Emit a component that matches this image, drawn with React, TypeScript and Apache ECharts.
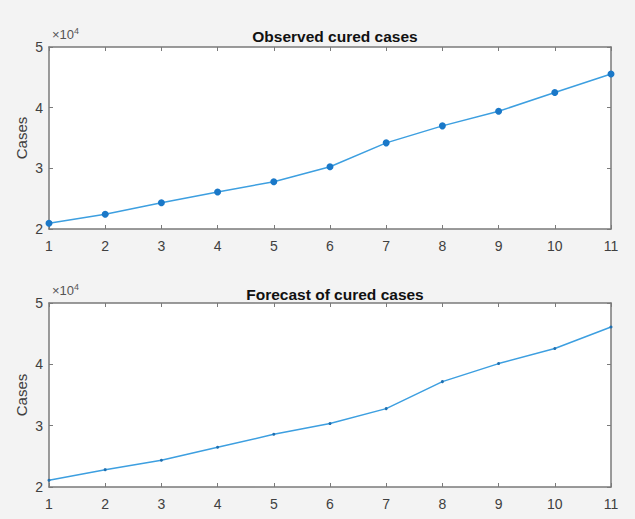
import React, { useEffect, useRef } from "react";
import * as echarts from "echarts";

const days = [1, 2, 3, 4, 5, 6, 7, 8, 9, 10, 11];
const observedCured = [20940, 22420, 24340, 26100, 27800, 30270, 34200, 37000, 39400, 42500, 45550];
const forecastCured = [21090, 22830, 24350, 26470, 28590, 30340, 32780, 37180, 40120, 42570, 46090];
const titles = ["Observed cured cases", "Forecast of cured cases"];
const yTicks = [20000, 30000, 40000, 50000];

export default function App() {
  const ref = useRef<HTMLDivElement>(null);
  useEffect(() => {
    document.body.style.margin = "0";
    const chart = echarts.init(ref.current!, null, { renderer: "svg" });
    const axisColor = "#7a7a7a";
    const labelColor = "#404040";
    const grids = [
      { left: 49, top: 47, width: 562, height: 182 },
      { left: 49, top: 303, width: 562, height: 184 },
    ];
    const xAxis: any[] = [];
    const yAxis: any[] = [];
    const series: any[] = [];
    const datasets = [observedCured, forecastCured];
    grids.forEach((g, i) => {
      xAxis.push({
        type: "value", gridIndex: i, min: 1, max: 11, interval: 1, position: "bottom",
        axisLine: { show: true, onZero: false, lineStyle: { color: axisColor, width: 1.5 } },
        axisTick: { show: true, inside: true, length: 4, lineStyle: { color: axisColor } },
        axisLabel: { color: labelColor, fontSize: 14, fontFamily: "Arial, Liberation Sans", margin: 10 },
        splitLine: { show: false },
      });
      xAxis.push({
        type: "value", gridIndex: i, min: 1, max: 11, interval: 1, position: "top",
        axisLine: { show: true, onZero: false, lineStyle: { color: axisColor, width: 1.5 } },
        axisTick: { show: true, inside: true, length: 4, lineStyle: { color: axisColor } },
        axisLabel: { show: false },
        splitLine: { show: false },
      });
      yAxis.push({
        type: "value", gridIndex: i, min: 20000, max: 50000, interval: 10000, position: "left",
        name: "Cases", nameLocation: "middle", nameGap: 20, nameRotate: 90, nameMoveOverlap: false,
        nameTextStyle: { color: labelColor, fontSize: 15, fontFamily: "Arial, Liberation Sans" },
        axisLine: { show: true, onZero: false, lineStyle: { color: axisColor, width: 1.5 } },
        axisTick: { show: true, inside: true, length: 4, lineStyle: { color: axisColor } },
        axisLabel: {
          color: labelColor, fontSize: 14, fontFamily: "Arial, Liberation Sans", margin: 6,
          formatter: (v: number) => (yTicks.includes(v) ? String(v / 10000) : ""),
        },
        splitLine: { show: false },
      });
      yAxis.push({
        type: "value", gridIndex: i, min: 20000, max: 50000, interval: 10000, position: "right",
        axisLine: { show: true, onZero: false, lineStyle: { color: axisColor, width: 1.5 } },
        axisTick: { show: true, inside: true, length: 4, lineStyle: { color: axisColor } },
        axisLabel: { show: false },
        splitLine: { show: false },
      });
      series.push({
        type: "line",
        xAxisIndex: i * 2,
        yAxisIndex: i * 2,
        data: days.map((d, k) => [d, datasets[i][k]]),
        symbol: "circle",
        symbolSize: i === 0 ? 7 : 3,
        lineStyle: { color: "#3d9fe0", width: 1.5 },
        itemStyle: { color: i === 0 ? "#1a78c8" : "#1f6fb0" },
        z: 5,
      });
    });
    chart.setOption({
      animation: false,
      backgroundColor: "#f3f3f3",
      title: titles.map((t, i) => ({
        text: t,
        left: 330,
        textAlign: "center",
        top: i === 0 ? 23 : 281,
        textStyle: { fontSize: 15.5, fontWeight: "bold", color: "#111", fontFamily: "Arial, Liberation Sans" },
      })),
      grid: grids.map((g) => ({ ...g, show: true, backgroundColor: "#ffffff", borderWidth: 0 })),
      xAxis,
      yAxis,
      series,
      graphic: [0, 1].map((i) => ({
        type: "text",
        left: 52,
        top: i === 0 ? 26 : 282,
        style: {
          text: "×10{s|4}",
          rich: { s: { fontSize: 9, verticalAlign: "top", padding: [0, 0, 7, 0], fill: "#555" } },
          fill: "#555",
          fontSize: 13,
          fontFamily: "Arial, Liberation Sans",
        },
      })),
    });
    return () => chart.dispose();
  }, []);
  return <div ref={ref} style={{ width: 635, height: 519 }} />;
}
